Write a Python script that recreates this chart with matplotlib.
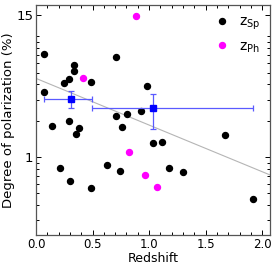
import numpy as np
import matplotlib
matplotlib.use("Agg")
import matplotlib.pyplot as plt
from matplotlib.ticker import FixedLocator, NullFormatter

# spectroscopic redshifts
z_sp = [0.068, 0.068, 0.245, 0.292, 0.333, 0.333, 0.486, 0.707,
        0.139, 0.292, 0.380, 0.357, 0.707, 0.763, 0.804, 0.925, 0.980,
        0.215, 0.301, 0.486, 0.630, 0.745,
        1.039, 1.118, 1.180, 1.304, 1.670, 1.916]
p_sp = [7.1, 3.44, 4.08, 4.43, 5.78, 5.19, 4.16, 6.70,
        1.82, 1.99, 1.73, 1.54, 2.19, 1.76, 2.27, 2.39, 3.87,
        0.815, 0.637, 0.557, 0.859, 0.766,
        1.31, 1.34, 0.815, 0.746, 1.52, 0.446]

# photometric redshifts
z_ph = [0.886, 0.412, 0.822, 0.966, 1.074]
p_ph = [14.9, 4.51, 1.10, 0.705, 0.564]

# binned means
bin_z = [0.312, 1.039]
bin_p = [3.04, 2.53]
bin_zlo = [0.244, 0.544]
bin_zhi = [0.183, 0.880]
bin_plo = [0.50, 0.81]
bin_phi = [0.50, 0.82]

# fitted trend (end points)
fit_z = [0.0, 2.07]
fit_p = [4.49, 0.71]

fig = plt.figure(figsize=(2.75, 2.7), dpi=100)
ax = fig.add_axes([0.131, 0.13, 0.851, 0.851])

ax.plot(fit_z, fit_p, color="#b5b5b5", lw=0.8, zorder=1)
ax.plot(z_sp, p_sp, "o", color="black", ms=4.3, label=r"z$_{\rm Sp}$", zorder=3)
ax.plot(z_ph, p_ph, "o", color="#ff00ff", ms=4.3, label=r"z$_{\rm Ph}$", zorder=3)
ax.errorbar(bin_z, bin_p, xerr=[bin_zlo, bin_zhi], yerr=[bin_plo, bin_phi],
            fmt="s", color="#0000ff", ms=4.3, ecolor="#5a5aff", elinewidth=0.9,
            capsize=2, capthick=0.9, zorder=4)

ax.set_yscale("log")
ax.set_xlim(0, 2.07)
ax.set_ylim(0.226, 18.2)
ax.yaxis.set_major_locator(FixedLocator([1, 15]))
ax.set_yticklabels(["1", "15"])
ax.yaxis.set_minor_locator(FixedLocator([0.3, 0.4, 0.5, 0.6, 0.7, 0.8, 0.9,
                                         2, 3, 4, 5, 6, 7, 8, 9, 10]))
ax.yaxis.set_minor_formatter(NullFormatter())
ax.set_xticks([0.0, 0.5, 1.0, 1.5, 2.0])
ax.set_xticks(np.arange(0.1, 2.07, 0.1), minor=True)

ax.tick_params(which="both", direction="in", top=True, right=True,
               labelsize=8.5, width=0.7, pad=2)
ax.tick_params(axis="y", labelsize=9.5)
ax.tick_params(which="major", length=3.5)
ax.tick_params(which="minor", length=2)
for s in ax.spines.values():
    s.set_color("#555555")
    s.set_linewidth(0.9)

ax.set_xlabel("Redshift", fontsize=9, labelpad=1)
ax.set_ylabel("Degree of polarization (%)", fontsize=9.5, labelpad=1)

ax.legend(loc="upper right", frameon=False, fontsize=10, handletextpad=0.6,
          borderaxespad=0.3, labelspacing=0.5, handlelength=1.2)

fig.savefig("out.png", dpi=100)
